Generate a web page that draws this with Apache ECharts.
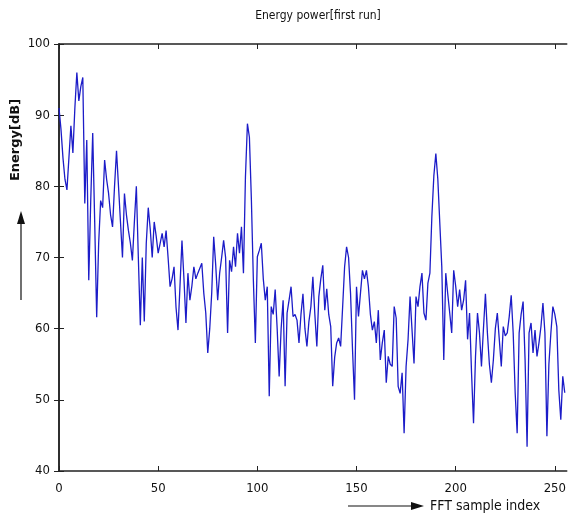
<!DOCTYPE html>
<html>
<head>
<meta charset="utf-8">
<script src="https://cdn.jsdelivr.net/npm/echarts@6/dist/echarts.min.js"></script>
<style>
  html, body { margin: 0; padding: 0; background: #fff; }
  #chart { width: 569px; height: 521px; }
</style>
</head>
<body>
<div id="chart"></div>
<script>
// energy values, one per FFT sample (0..255)
var energyDb = [
    91, 88, 84, 81, 79.5, 84, 88.5, 84.7, 91, 96,
    92, 94, 95.3, 77.6, 86.5, 66.8, 78, 87.5, 75, 61.6,
    72, 78, 77, 83.7, 81, 79, 76, 74.3, 80, 85,
    80, 75, 70, 79, 76, 73.8, 72, 69.6, 75, 80,
    70, 60.5, 70, 61, 72, 77, 74, 70, 75, 73,
    70.6, 72, 73.4, 71.5, 73.8, 70, 65.9, 67, 68.7, 63,
    59.8, 66, 72.4, 67, 60.8, 67.8, 64, 66, 68.7, 67,
    67.8, 68, 69.2, 65, 62.2, 56.6, 60, 65, 72.9, 69,
    64, 67.8, 70, 72.4, 70, 59.4, 69.6, 68, 71.5, 68.7,
    73.4, 70.6, 74.3, 67.8, 81.3, 88.8, 86.9, 78.1, 66.8, 58,
    70.1, 71, 72, 67, 64, 65.9, 50.5, 63.1, 62, 65.5,
    60, 53.3, 60, 64, 51.9, 62.2, 64, 65.9, 61.7, 62,
    61.2, 58, 62, 64.9, 60, 57.5, 61, 63.1, 67.3, 62,
    57.5, 64.5, 67, 68.9, 62.6, 65.6, 62, 60.3, 51.9, 56,
    58, 58.7, 57.5, 63, 68.7, 71.5, 70, 64.9, 57, 50,
    65.9, 61.7, 65, 68.2, 67, 68.2, 65.9, 62, 59.8, 61,
    58, 62.6, 55.6, 58, 59.8, 52.4, 56.1, 55, 54.7, 63.1,
    61.5, 51.9, 50.9, 53.8, 45.3, 54.7, 58.5, 64.5, 64.5, 55.1,
    64.5, 63.1, 65.9, 67.8, 62.2, 61.2, 66.4, 67.8, 75.8, 81.5,
    84.6, 81, 74.8, 68.7, 55.6, 67.8, 64.9, 62.2, 59.4, 68.2,
    66, 63.1, 65.5, 62.6, 64, 66.8, 58.5, 62.2, 53.8, 46.7,
    56.1, 62.2, 59.4, 54.7, 60, 64.9, 59.4, 55, 52.4, 55.6,
    60, 62.2, 62.2, 54.7, 60.3, 59, 59.4, 61.7, 64.7, 59.4,
    51, 45.3, 59.4, 62, 63.8, 55.6, 43.4, 59.4, 60.8, 56.6,
    59.8, 56.1, 58, 60.3, 63.6, 59.4, 44.9, 55, 59.4, 63.1,
    62, 60.3, 51.4, 47.2, 53.3, 51
];
var xTicks = [0, 50, 100, 150, 200, 250];
var yMin = 40, yMax = 100, yStep = 10;
var xMax = 256;

var chart = echarts.init(document.getElementById('chart'));

var lineData = energyDb.map(function (v, i) { return [i, v]; });

var labelFont = {
    color: '#111',
    fontFamily: 'DejaVu Sans Condensed, Liberation Sans Narrow, Arial, sans-serif',
    fontSize: 13
};

var option = {
    backgroundColor: '#fff',
    animation: false,
    title: {
        text: 'Energy power[first run]',
        left: 313,
        top: 5,
        textAlign: 'center',
        textStyle: {
            color: '#111',
            fontFamily: labelFont.fontFamily,
            fontSize: 12,
            fontWeight: 'normal'
        }
    },
    grid: {
        left: 59,
        top: 44,
        right: -2,
        bottom: 50
    },
    xAxis: [
        {
            type: 'value',
            min: 0,
            max: xMax,
            position: 'bottom',
            splitLine: {show: false},
            axisLine: {lineStyle: {color: '#222', width: 1.5}},
            axisTick: {inside: true, length: 5, customValues: xTicks, lineStyle: {color: '#222'}},
            axisLabel: Object.assign({margin: 11, customValues: xTicks}, labelFont)
        },
        {
            // top edge of the box
            type: 'value',
            min: 0,
            max: xMax,
            position: 'top',
            splitLine: {show: false},
            axisLine: {lineStyle: {color: '#222', width: 1.5}},
            axisTick: {inside: true, length: 5, customValues: xTicks, lineStyle: {color: '#222'}},
            axisLabel: {show: false}
        }
    ],
    yAxis: [
        {
            type: 'value',
            min: yMin,
            max: yMax,
            interval: yStep,
            position: 'left',
            splitLine: {show: false},
            axisLine: {show: true, lineStyle: {color: '#222', width: 1.5}},
            axisTick: {show: true, inside: true, length: 5, lineStyle: {color: '#222'}},
            axisLabel: Object.assign({margin: 9}, labelFont)
        },
        {
            // right edge of the box (just off the canvas)
            type: 'value',
            min: yMin,
            max: yMax,
            interval: yStep,
            position: 'right',
            splitLine: {show: false},
            axisLine: {show: true, lineStyle: {color: '#222', width: 1.5}},
            axisTick: {show: true, inside: true, length: 5, lineStyle: {color: '#222'}},
            axisLabel: {show: false}
        }
    ],
    series: [
        {
            type: 'line',
            data: lineData,
            showSymbol: false,
            lineStyle: {color: '#1c1cc8', width: 1.3},
            clip: true
        }
    ],
    graphic: [
        // y-axis caption with its arrow
        {
            type: 'text',
            x: 16,
            y: 140,
            rotation: Math.PI / 2,
            style: {
                text: 'Energy[dB]',
                fill: '#111',
                font: 'bold 13px DejaVu Sans, Arial, sans-serif',
                align: 'center',
                verticalAlign: 'middle'
            }
        },
        {
            type: 'line',
            shape: {x1: 21, y1: 300, x2: 21, y2: 222},
            style: {stroke: '#111', lineWidth: 1.2}
        },
        {
            type: 'polygon',
            shape: {points: [[21, 211], [17, 224], [25, 224]]},
            style: {fill: '#111'}
        },
        // x-axis caption with its arrow
        {
            type: 'line',
            shape: {x1: 348, y1: 506, x2: 414, y2: 506},
            style: {stroke: '#111', lineWidth: 1.2}
        },
        {
            type: 'polygon',
            shape: {points: [[424, 506], [411, 502], [411, 510]]},
            style: {fill: '#111'}
        },
        {
            type: 'text',
            x: 430,
            y: 506,
            style: {
                text: 'FFT sample index',
                fill: '#111',
                font: '14px DejaVu Sans Condensed, Arial, sans-serif',
                verticalAlign: 'middle'
            }
        }
    ]
};

chart.setOption(option);
</script>
</body>
</html>
